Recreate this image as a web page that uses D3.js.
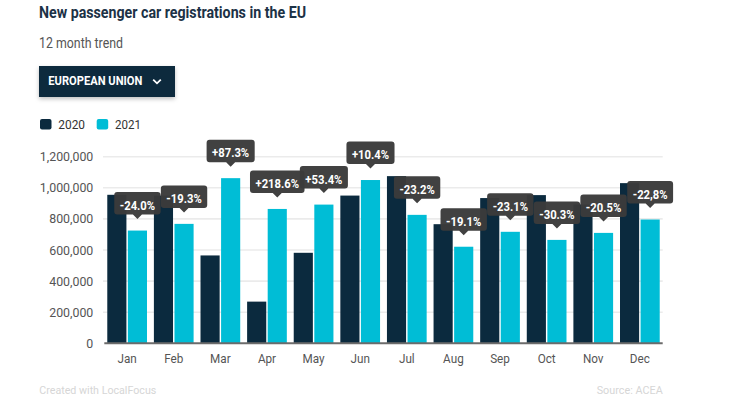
<!DOCTYPE html>
<html>
<head>
<meta charset="utf-8">
<script src="https://cdn.jsdelivr.net/npm/d3@7"></script>
<style>
  html, body { margin: 0; padding: 0; background: #fff; }
  svg { display: block; font-family: Roboto, "Noto Sans", sans-serif; }
</style>
</head>
<body>
<svg id="chart" width="733" height="420"></svg>
<script>
// ---- data ----
const months = ["Jan","Feb","Mar","Apr","May","Jun","Jul","Aug","Sep","Oct","Nov","Dec"];
const seriesNames = ["2020","2021"];
const values2020 = [955000, 950000, 565000, 268000, 582000, 950000, 1075000, 766000, 934000, 953000, 893000, 1030000];
const values2021 = [725000, 768000, 1062000, 864000, 892000, 1050000, 826000, 621000, 717000, 665000, 710000, 796000];
const changeLabels = ["-24.0%","-19.3%","+87.3%","+218.6%","+53.4%","+10.4%","-23.2%","-19.1%","-23.1%","-30.3%","-20.5%","-22,8%"];
const yTicks = [0, 200000, 400000, 600000, 800000, 1000000, 1200000];

const colors = { "2020": "#0b2a3e", "2021": "#00bdd6" };

const svg = d3.select("#chart");

function condense(sel, f) {
  sel.each(function () {
    const w = this.getComputedTextLength();
    d3.select(this).attr("textLength", w * f).attr("lengthAdjust", "spacingAndGlyphs");
  });
}
function fitWidth(sel, w) {
  sel.attr("textLength", w).attr("lengthAdjust", "spacingAndGlyphs");
}

// ---- header ----
svg.append("text").attr("x", 39).attr("y", 18.3)
  .attr("font-size", 16).attr("font-weight", 700).attr("fill", "#1c3246")
  .text("New passenger car registrations in the EU").call(fitWidth, 267);

svg.append("text").attr("x", 39).attr("y", 48.3)
  .attr("font-size", 14).attr("fill", "#555")
  .text("12 month trend").call(fitWidth, 84);

// button with shadow
const defs = svg.append("defs");
const f = defs.append("filter").attr("id", "shadow").attr("x", "-20%").attr("y", "-30%").attr("width", "140%").attr("height", "180%");
f.append("feDropShadow").attr("dx", 0).attr("dy", 2).attr("stdDeviation", 2).attr("flood-color", "#000").attr("flood-opacity", 0.25);

svg.append("rect").attr("x", 39).attr("y", 66).attr("width", 136).attr("height", 31)
  .attr("fill", "#0b2a3e").attr("filter", "url(#shadow)");
svg.append("text").attr("x", 48.3).attr("y", 85.2)
  .attr("font-size", 12).attr("font-weight", 700).attr("fill", "#fff")
  .text("EUROPEAN UNION").call(fitWidth, 94);
svg.append("path").attr("d", "M153.2,79.6 L157,83.3 L160.8,79.6")
  .attr("fill", "none").attr("stroke", "#fff").attr("stroke-width", 1.8);

// legend
const legendPos = [{ x: 40, tx: 58.3, w: 26.7 }, { x: 96.7, tx: 115, w: 26 }];
seriesNames.forEach((s, i) => {
  svg.append("rect").attr("x", legendPos[i].x).attr("y", 119).attr("width", 11.5).attr("height", 10.5)
    .attr("rx", 2).attr("fill", colors[s]);
  svg.append("text").attr("x", legendPos[i].tx).attr("y", 128.5)
    .attr("font-size", 13.5).attr("fill", "#333").text(s).call(fitWidth, legendPos[i].w);
});

// ---- chart ----
const plotLeft = 104.3, plotRight = 662.7, y0px = 343.3;
const y = d3.scaleLinear().domain([0, 1200000]).range([y0px, 156.7]);
const x0 = d3.scaleBand().domain(months).range([plotLeft, plotRight]).paddingInner(0.148).paddingOuter(0.064);
const x1 = d3.scaleBand().domain(seriesNames).range([0, x0.bandwidth()]).paddingInner(0.07);

// gridlines
svg.append("g").selectAll("line").data(yTicks.filter(t => t > 0)).join("line")
  .attr("x1", 103).attr("x2", plotRight).attr("y1", d => y(d)).attr("y2", d => y(d))
  .attr("stroke", "#ebebeb").attr("stroke-width", 1.6);

// y tick labels
const fmt = d3.format(",");
svg.append("g").selectAll("text").data(yTicks).join("text")
  .attr("x", 93.3).attr("y", d => y(d)).attr("dy", "0.35em").attr("text-anchor", "end")
  .attr("font-size", 13).attr("fill", "#555").text(d => fmt(d))
  .call(condense, 0.95);

// bars
const rows = months.map((m, i) => ({ month: m, vals: [values2020[i], values2021[i]], label: changeLabels[i] }));
const groups = svg.append("g").selectAll("g").data(rows).join("g")
  .attr("transform", d => `translate(${x0(d.month)},0)`);
groups.selectAll("rect").data(d => d.vals.map((v, j) => ({ key: seriesNames[j], v }))).join("rect")
  .attr("x", d => x1(d.key)).attr("width", x1.bandwidth())
  .attr("y", d => y(d.v)).attr("height", d => y0px - y(d.v))
  .attr("fill", d => colors[d.key]);

// baseline axis
svg.append("line").attr("x1", plotLeft).attr("x2", plotRight).attr("y1", y0px).attr("y2", y0px)
  .attr("stroke", "#6b6b6b").attr("stroke-width", 2);

// month labels
svg.append("g").selectAll("text").data(months).join("text")
  .attr("x", d => x0(d) + x0.bandwidth() / 2).attr("y", 362.7).attr("text-anchor", "middle")
  .attr("font-size", 13).attr("fill", "#555").text(d => d)
  .call(condense, 0.9);

// change labels (tooltips) on top
const lab = svg.append("g").selectAll("g").data(rows).join("g")
  .attr("transform", d => `translate(${x0(d.month) + x1("2021") + x1.bandwidth() / 2},${y(d.vals[1]) - 11.5})`);
lab.each(function (d) {
  const g = d3.select(this);
  const t = g.append("text").attr("x", 0).attr("y", -9.5).attr("text-anchor", "middle")
    .attr("font-size", 12.5).attr("font-weight", 700).attr("fill", "#fff").text(d.label);
  const w = t.node().getComputedTextLength() * 0.9;
  t.attr("textLength", w).attr("lengthAdjust", "spacingAndGlyphs");
  const bw = w + 11, bh = 22.5;
  g.insert("path", "text")
    .attr("d", `M${-bw/2+3},${-4.5-bh} H${bw/2-3} Q${bw/2},${-4.5-bh} ${bw/2},${-4.5-bh+3} V${-7.5} Q${bw/2},${-4.5} ${bw/2-3},${-4.5} H4.5 L0,0 L-4.5,-4.5 H${-bw/2+3} Q${-bw/2},${-4.5} ${-bw/2},${-7.5} V${-4.5-bh+3} Q${-bw/2},${-4.5-bh} ${-bw/2+3},${-4.5-bh} Z`)
    .attr("fill", "#3b3b3b").attr("fill-opacity", 0.97);
});

// footer
svg.append("text").attr("x", 39.3).attr("y", 394).attr("font-size", 11.5).attr("fill", "#d6d6d6")
  .text("Created with LocalFocus").call(fitWidth, 117);
svg.append("text").attr("x", 662.7).attr("y", 394).attr("font-size", 11.5).attr("fill", "#d6d6d6")
  .attr("text-anchor", "end").text("Source: ACEA").call(fitWidth, 66);
</script>
</body>
</html>
